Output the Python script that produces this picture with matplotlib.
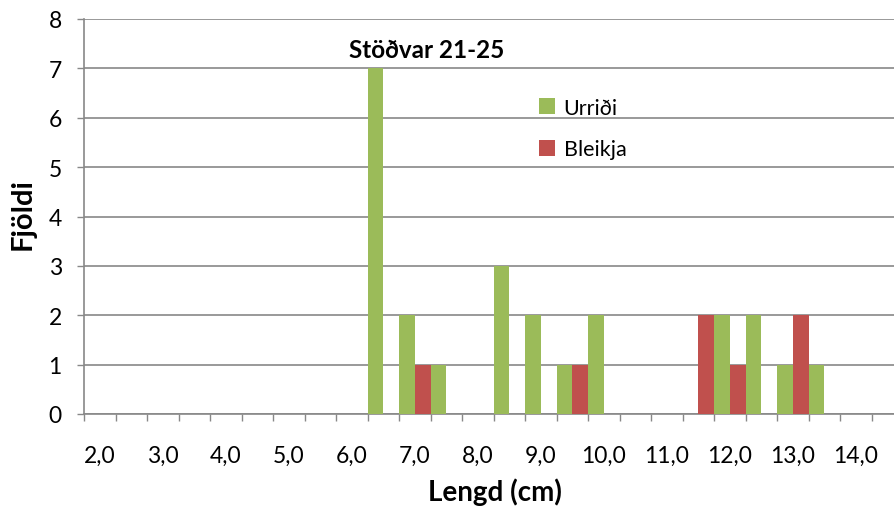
import matplotlib
matplotlib.use("Agg")
import matplotlib.pyplot as plt
from matplotlib.ticker import FixedLocator
import numpy as np

# Data
lengths = [2.0, 2.5, 3.0, 3.5, 4.0, 4.5, 5.0, 5.5, 6.0, 6.5, 7.0, 7.5, 8.0,
           8.5, 9.0, 9.5, 10.0, 10.5, 11.0, 11.5, 12.0, 12.5, 13.0, 13.5, 14.0, 14.5]
urridi = [0, 0, 0, 0, 0, 0, 0, 0, 0, 7, 2, 1, 0, 3, 2, 1, 2, 0, 0, 0, 2, 2, 1, 1, 0, 0]
bleikja = [0, 0, 0, 0, 0, 0, 0, 0, 0, 0, 1, 0, 0, 0, 0, 1, 0, 0, 0, 2, 1, 0, 2, 0, 0, 0]
series_names = ["Urriði", "Bleikja"]
title = "Stöðvar 21-25"
xlabel = "Lengd (cm)"
ylabel = "Fjöldi"

GREEN = "#9BBB59"
RED = "#C0504D"
GRID = "#888888"

plt.rcParams['font.family'] = ['Lato', 'DejaVu Sans']

W, H = 894, 510
fig = plt.figure(figsize=(W / 100, H / 100), dpi=100)
left_px, right_px, top_px, bot_px = 84, 894, 20, 415
ax = fig.add_axes([left_px / W, (H - bot_px) / H, (right_px - left_px) / W, (bot_px - top_px) / H])

n = len(lengths)
x = np.arange(n)
cat_w = 31.5
xmax = -0.5 + (right_px - left_px) / cat_w

ax.bar(x - 0.25, urridi, width=0.5, color=GREEN, label=series_names[0], zorder=3)
ax.bar(x + 0.25, bleikja, width=0.5, color=RED, label=series_names[1], zorder=3)

ax.set_xlim(-0.5, xmax)
ax.set_ylim(0, 8)

# y axis
ax.set_yticks(range(0, 9))
ax.set_yticklabels([str(v) for v in range(0, 9)], fontsize=16.5)
ax.tick_params(axis='y', length=5, width=1, color=GRID, pad=11)
ax.yaxis.grid(True, color=GRID, linewidth=1.2, zorder=0)

# x axis: labels on integer lengths (major, no mark), marks at category boundaries (minor)
lab_idx = [i for i, v in enumerate(lengths) if float(v).is_integer()]
ax.set_xticks(lab_idx)
ax.set_xticklabels([f"{lengths[i]:.1f}".replace('.', ',') for i in lab_idx], fontsize=16.5)
ax.tick_params(axis='x', which='major', length=0, pad=22)
ax.xaxis.set_minor_locator(FixedLocator(np.arange(-0.5, xmax, 1.0)))
ax.tick_params(axis='x', which='minor', length=5, width=1, color=GRID)

for s in ['top', 'right']:
    ax.spines[s].set_visible(False)
for s in ['left', 'bottom']:
    ax.spines[s].set_color(GRID)
    ax.spines[s].set_linewidth(1.2)
ax.set_axisbelow(True)

fig.text(427 / W, 1 - 50 / H, title, ha='center', va='center', fontsize=17.5, fontweight='bold')
fig.text(495 / W, 1 - 492 / H, xlabel, ha='center', va='center', fontsize=20, fontweight='bold')
fig.text(23 / W, 1 - 214 / H, ylabel, ha='center', va='center', fontsize=21, fontweight='bold', rotation=90)

leg = ax.legend(loc='upper left', bbox_to_anchor=(528 / W, 1 - 88 / H), bbox_transform=fig.transFigure,
                frameon=False, fontsize=15.5, handlelength=0.75, handleheight=0.75,
                handletextpad=0.4, labelspacing=1.0, borderpad=0)

fig.savefig("out.png", dpi=100)
